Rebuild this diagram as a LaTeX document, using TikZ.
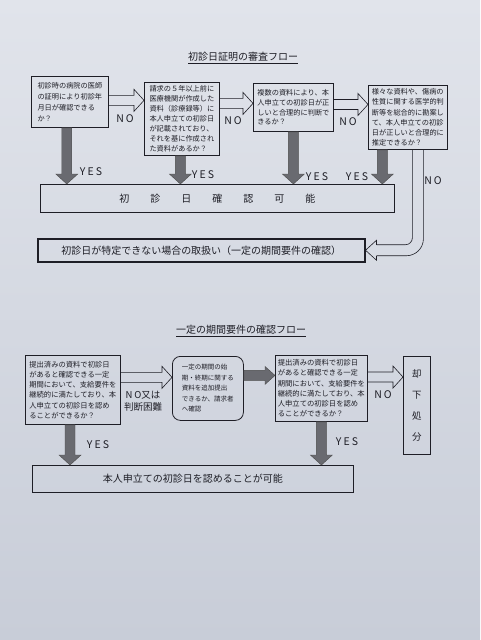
\documentclass[tikz,border=0pt]{standalone}
\usepackage{fontspec}
\setmainfont{Noto Sans CJK JP}
\newfontfamily\ynfont[LetterSpace=20]{Noto Sans CJK JP}
\usetikzlibrary{calc, positioning}

\definecolor{ink}{RGB}{30,30,38}
\definecolor{arrowgray}{RGB}{105,106,112}
\definecolor{papertop}{RGB}{225,228,235}
\definecolor{paperbot}{RGB}{200,205,216}

\newcommand{\gap}{\hspace{21pt}}

% hollow arrow to the right, from #1 to #2 (height taken from #1)
\newcommand{\noarrow}[2]{%
  \draw[hollow] let \p1=#1, \p2=#2 in
    (\x1,\y1+5pt) -- (\x2-10pt,\y1+5pt) -- (\x2-10pt,\y1+11pt) -- (\x2,\y1)
    -- (\x2-10pt,\y1-11pt) -- (\x2-10pt,\y1-5pt) -- (\x1,\y1-5pt);}

% filled arrow downwards, from #1 to the height of #2
\newcommand{\yesarrow}[2]{%
  \draw[solidarr] let \p1=#1, \p2=#2 in
    (\x1-5pt,\y1) -- (\x1-5pt,\y2+10pt) -- (\x1-11pt,\y2+10pt) -- (\x1,\y2)
    -- (\x1+11pt,\y2+10pt) -- (\x1+5pt,\y2+10pt) -- (\x1+5pt,\y1) -- cycle;}

\tikzset{
  qbox/.style={draw=ink, line width=0.8pt, text=ink, align=left, inner sep=2pt,
    anchor=north west, font=\fontsize{7.2}{10.2}\selectfont},
  wbox/.style={draw=ink, line width=0.8pt, text=ink, anchor=north west,
    font=\fontsize{10}{12}\selectfont},
  yn/.style={text=ink, font=\ynfont\fontsize{10.5}{12}\selectfont},
  title/.style={text=ink, font=\fontsize{10}{12}\selectfont},
  hollow/.style={draw=ink, line width=0.6pt},
  solidarr/.style={draw=black!70, fill=arrowgray, line width=0.4pt},
}

\begin{document}
\begin{tikzpicture}[x=1pt, y=-1pt]
    % paper
    \useasboundingbox (0,0) rectangle (480,640);
    \shade[top color=papertop, bottom color=paperbot] (0,0) rectangle (480,640);

    % first flow
    \node[title] (t1) at (243,58) {\underline{初診日証明の審査フロー}};

    \node[qbox, minimum width=77pt, minimum height=51pt, font=\fontsize{7.2}{11}\selectfont]
        (b1) at (31,76) {初診時の病院の医師\\の証明により初診年\\月日が確認できる\\か？};
    \node[qbox, minimum width=75pt, minimum height=73pt, font=\fontsize{7.2}{9.9}\selectfont]
        (b2) at (144,82) {請求の５年以上前に\\医療機関が作成した\\資料（診療録等）に\\本人申立ての初診日\\が記載されており、\\それを基に作成され\\た資料があるか？};
    \node[qbox, minimum width=80pt, minimum height=48pt, font=\fontsize{7.2}{9.6}\selectfont]
        (b3) at (253,83) {複数の資料により、本\\人申立ての初診日が正\\しいと合理的に判断で\\きるか？};
    \node[qbox, minimum width=79pt, minimum height=64pt]
        (b4) at (368,85) {様々な資料や、傷病の\\性質に関する医学的判\\断等を総合的に勘案し\\て、本人申立ての初診\\日が正しいと合理的に\\推定できるか？};

    \node[wbox, minimum width=354pt, minimum height=28pt]
        (ok) at (40,184) {初\gap 診\gap 日\gap 確\gap 認\gap 可\gap 能};
    \node[wbox, line width=1.5pt, minimum width=327pt, minimum height=23pt]
        (fb) at (37,238) {初診日が特定できない場合の取扱い（一定の期間要件の確認）};

    % NO arrows
    \noarrow{($(b1.north east)!0.47!(b1.south east)$)}{(b2.west)}
    \noarrow{($(b2.north east)!0.29!(b2.south east)$)}{(b3.west)}
    \noarrow{($(b3.north east)!0.44!(b3.south east)$)}{(b4.west)}
    \draw[hollow] let \p1=($(b4.south)+(10,0)$), \p2=(fb.east) in
        [rounded corners=7pt] (\x1-5.5pt,\y1) |- (\x2+11pt,\y2+5.5pt)
        [rounded corners=17pt] (\x1+5.5pt,\y1) |- (\x2+11pt,\y2-5.5pt)
        [sharp corners] (\x2+11pt,\y2+5.5pt) -- (\x2+11pt,\y2+10pt) -- (\x2,\y2)
        -- (\x2+11pt,\y2-10pt) -- (\x2+11pt,\y2-5.5pt);
    \node[yn] (no1) at (125,119) {NO};
    \node[yn] (no2) at (233,121) {NO};
    \node[yn] (no3) at (348,122) {NO};
    \node[yn] (no4) at (433,181) {NO};

    % YES arrows
    \yesarrow{($(b1.south west)!0.46!(b1.south east)$)}{(ok.north)}
    \yesarrow{($(b2.south west)!0.48!(b2.south east)$)}{(ok.north)}
    \yesarrow{(b3.south)}{(ok.north)}
    \yesarrow{($(b4.south west)!0.18!(b4.south east)$)}{(ok.north)}
    \node[yn] (yes1) at (91,172) {YES};
    \node[yn] (yes2) at (203,175) {YES};
    \node[yn] (yes3) at (317,177) {YES};
    \node[yn] (yes4) at (357,177) {YES};

    % second flow
    \node[title] (t2) at (241,331) {\underline{一定の期間要件の確認フロー}};

    \node[qbox, minimum width=95pt, minimum height=69pt, font=\fontsize{7.3}{10.2}\selectfont]
        (qa) at (25,355) {提出済みの資料で初診日\\があると確認できる一定\\期間において、支給要件を\\継続的に満たしており、本\\人申立ての初診日を認め\\ることができるか？};
    \node[qbox, rounded corners=8pt, minimum width=71pt, minimum height=64pt,
        font=\fontsize{6.5}{10.5}\selectfont]
        (qb) at (172,356) {一定の期間の始\\期・終期に関する\\資料を追加提出\\できるか、請求者\\へ確認};
    \node[qbox, minimum width=92pt, minimum height=66pt, font=\fontsize{7.3}{10.2}\selectfont]
        (qc) at (275,355) {提出済みの資料で初診日\\があると確認できる一定\\期間において、支給要件を\\継続的に満たしており、本\\人申立ての初診日を認め\\ることができるか？};
    \node[qbox, align=center, minimum width=27pt, minimum height=98pt,
        font=\fontsize{9.5}{21.3}\selectfont]
        (rj) at (403,356) {却\\下\\処\\分};
    \node[wbox, minimum width=321pt, minimum height=27pt]
        (ap) at (32,465) {本人申立ての初診日を認めることが可能};

    \noarrow{($(qa.north east)!0.32!(qa.south east)$)}{(qb.west)}
    \noarrow{($(qc.north east)!0.33!(qc.south east)$)}{(rj.west)}
    \draw[solidarr] let \p1=($(qb.north east)!0.3!(qb.south east)$), \p2=(qc.west) in
        (\x1,\y1+5pt) -- (\x2-10pt,\y1+5pt) -- (\x2-10pt,\y1+9pt) -- (\x2,\y1)
        -- (\x2-10pt,\y1-9pt) -- (\x2-10pt,\y1-5pt) -- (\x1,\y1-5pt) -- cycle;
    \node[yn, align=center, font=\fontsize{9.5}{12}\selectfont]
        (no5) at (143,401) {{\ynfont NO}又は\\判断困難};
    \node[yn] (no6) at (383,395) {NO};

    \yesarrow{($(qa.south west)!0.47!(qa.south east)$)}{(ap.north)}
    \yesarrow{(qc.south)}{(ap.north)}
    \node[yn] (yes5) at (98,445) {YES};
    \node[yn] (yes6) at (347,442) {YES};
\end{tikzpicture}
\end{document}
